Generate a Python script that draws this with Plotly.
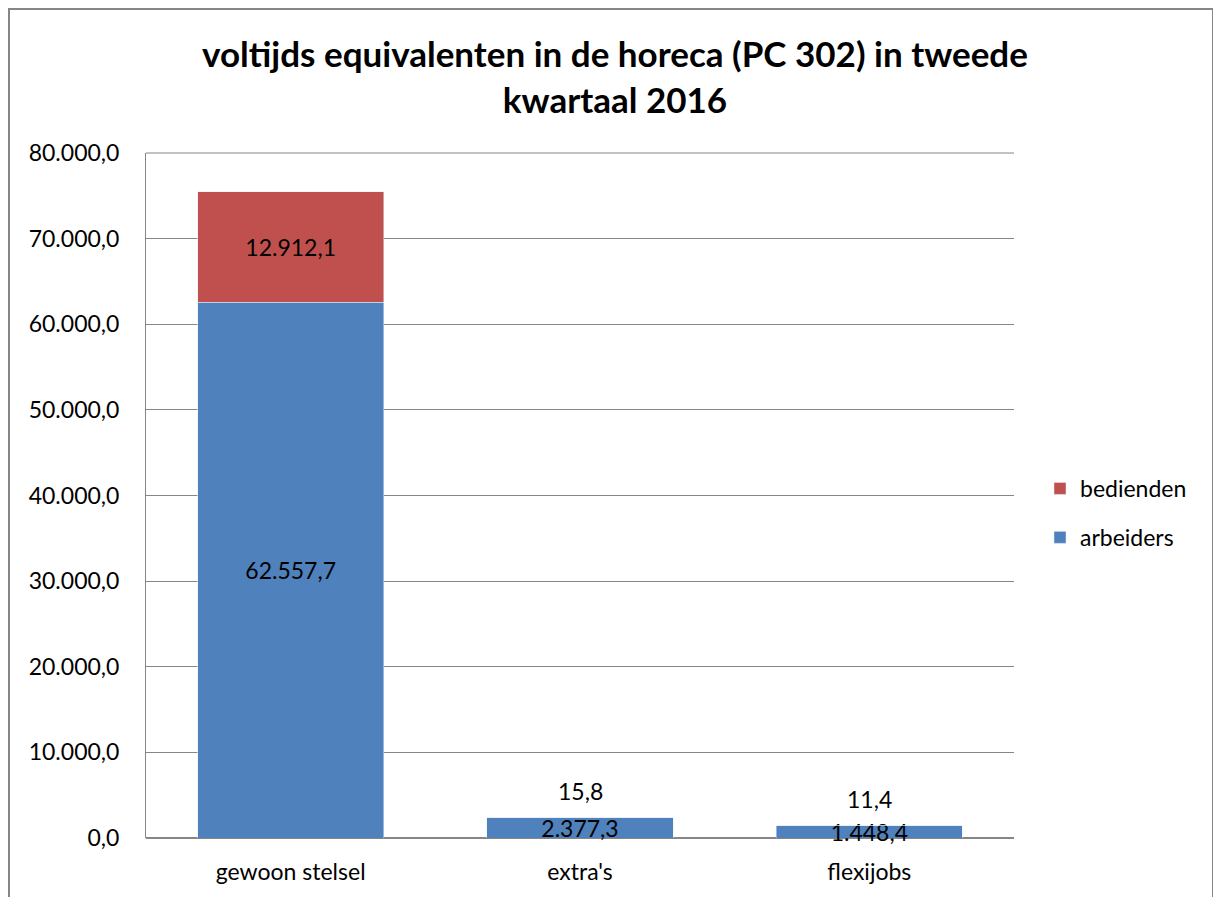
import plotly.graph_objects as go

categories = ["gewoon stelsel", "extra's", "flexijobs"]
arbeiders = [62557.7, 2377.3, 1448.4]
bedienden = [12912.1, 15.8, 11.4]
title_text = "voltijds equivalenten in de horeca (PC 302) in tweede<br>kwartaal 2016"

FONT = "Lato"
FS = 23
BLUE = "#4F81BD"
RED = "#C0504D"
GRID = "#868686"

def fmt(v):
    s = f"{v:,.1f}"
    return s.replace(",", "X").replace(".", ",").replace("X", ".")

fig = go.Figure()
fig.add_trace(go.Bar(
    x=categories, y=arbeiders, name="arbeiders", marker_color=BLUE,
    text=[fmt(v) for v in arbeiders], textposition="inside", insidetextanchor="middle",
    textangle=0, constraintext="none", cliponaxis=False,
    textfont=dict(family=FONT, size=FS, color="black"), legendrank=2, legendgroup="arb",
))
bed_pos = ["inside" if b > 1000 else "none" for b in bedienden]
fig.add_trace(go.Bar(
    x=categories, y=bedienden, name="bedienden", marker_color=RED,
    text=[fmt(v) for v in bedienden], textposition=bed_pos, insidetextanchor="middle",
    textangle=0, constraintext="none",
    textfont=dict(family=FONT, size=FS, color="black"), legendrank=1, legendgroup="bed",
))
for c, a, b in zip(categories, arbeiders, bedienden):
    if b <= 1000:
        fig.add_annotation(x=c, y=a + b, text=fmt(b), showarrow=False, yshift=27,
                           font=dict(family=FONT, size=FS, color="black"))

OFF = 8  # body margin of the page
W, H = 1221 - OFF, 897 - OFF
L, R, T, B = 146, 1014, 153, 838
pw, ph = R - L, B - T
fig.add_shape(type="rect", xref="paper", yref="paper",
              x0=(9 - L) / pw, x1=(1213 - L) / pw,
              y0=(B - 930) / ph, y1=(B - 9) / ph,
              line=dict(color=GRID, width=2), fillcolor="rgba(0,0,0,0)", layer="below")

fig.update_layout(
    width=W, height=H,
    margin=dict(l=L - OFF, r=W - (R - OFF), t=T - OFF, b=H - (B - OFF), pad=0),
    barmode="stack", bargap=0.357,
    separators=",.",
    paper_bgcolor="white", plot_bgcolor="white",
    font=dict(family=FONT, size=FS, color="black"),
    title=dict(text=title_text, x=(615 - OFF) / W, xanchor="center",
               y=1 - (67 - OFF) / H, yanchor="middle",
               font=dict(family=FONT, size=35, color="black", weight="bold")),
    legend=dict(x=(1040 - L) / pw, y=(B - 513) / ph, xanchor="left", yanchor="middle",
                traceorder="grouped", tracegroupgap=16,
                font=dict(family=FONT, size=FS, color="black"), itemwidth=30),
    xaxis=dict(showgrid=False, showline=False, ticks="", tickfont=dict(family=FONT, size=FS),
               ticklabelstandoff=18),
    yaxis=dict(range=[0, 80000], dtick=10000, tickformat=",.1f", showgrid=True,
               gridcolor=GRID, gridwidth=1, showline=True, linecolor=GRID, linewidth=1,
               zeroline=True, zerolinecolor=GRID, zerolinewidth=2, ticks="",
               ticklabelstandoff=21, tickfont=dict(family=FONT, size=FS)),
)
fig.add_shape(type="line", xref="paper", yref="paper", x0=0, x1=1, y0=1, y1=1,
              line=dict(color=GRID, width=1))
fig.write_html("out.html")
